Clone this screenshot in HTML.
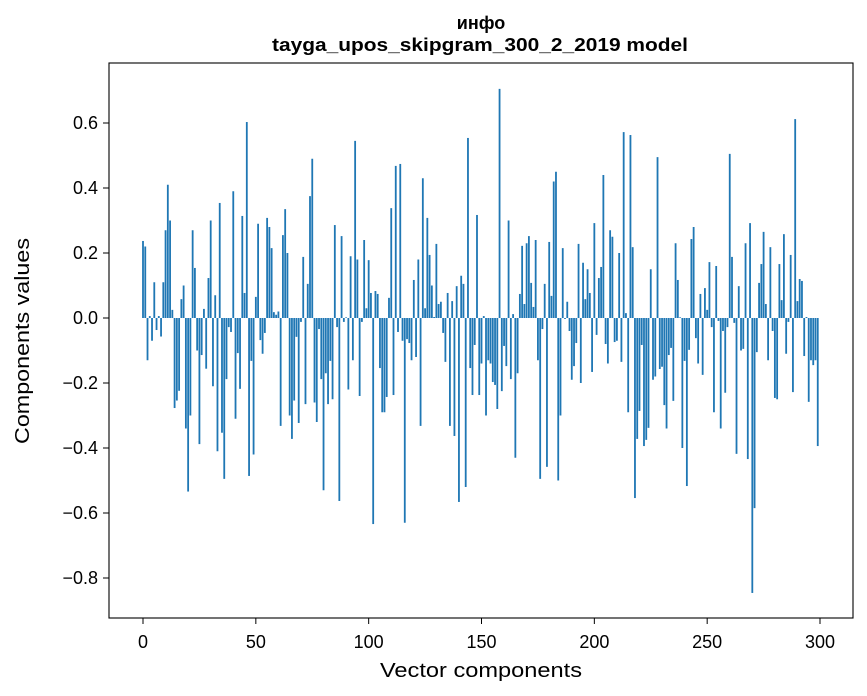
<!DOCTYPE html>
<html><head><meta charset="utf-8">
<style>
html,body{margin:0;padding:0;background:#fff;}
svg{display:block;font-family:"Liberation Sans","DejaVu Sans",sans-serif;}
</style></head>
<body>
<svg id="chart" width="867" height="696" viewBox="0 0 867 696" xmlns="http://www.w3.org/2000/svg">
<rect x="0" y="0" width="867" height="696" fill="#fff"/>
<text x="481" y="29" text-anchor="middle" font-size="18" font-weight="bold" font-family="Liberation Sans, Noto Sans CJK SC, sans-serif">инфо</text>
<text x="480" y="51" text-anchor="middle" font-size="18" font-weight="bold" textLength="416" lengthAdjust="spacingAndGlyphs">tayga_upos_skipgram_300_2_2019 model</text>
<g id="bars"></g>
<g id="axes"></g>
<rect x="109" y="63" width="744" height="555" fill="none" stroke="#000" stroke-width="1.1"/>
<text x="481" y="677" text-anchor="middle" font-size="20" textLength="202" lengthAdjust="spacingAndGlyphs">Vector components</text>
<text transform="translate(29,341) rotate(-90)" text-anchor="middle" font-size="20" textLength="206" lengthAdjust="spacingAndGlyphs">Components values</text>
</svg>
<script>
const values = [
0.237,0.22,-0.13,0.006,-0.07,0.11,-0.037,0.006,-0.057,0.11,
0.27,0.41,0.30,0.025,-0.277,-0.254,-0.224,0.058,0.10,-0.34,
-0.534,-0.30,0.27,0.154,-0.1,-0.388,-0.114,0.028,-0.156,0.123,
0.30,-0.21,0.07,-0.41,0.354,-0.353,-0.495,-0.188,-0.028,-0.043,
0.39,-0.31,-0.108,-0.218,0.314,0.077,0.603,-0.486,-0.132,-0.42,
0.065,0.29,-0.068,-0.11,-0.046,0.308,0.28,0.215,0.018,0.01,
0.02,-0.332,0.255,0.335,0.2,-0.30,-0.372,-0.254,-0.058,-0.323,
-0.012,0.188,-0.265,0.105,0.375,0.49,-0.26,-0.32,-0.034,-0.188,
-0.53,-0.17,-0.265,-0.132,-0.25,0.286,-0.028,-0.563,0.252,-0.012,
0.002,-0.22,0.19,-0.13,0.545,0.18,-0.24,-0.012,0.24,0.03,
0.178,0.077,-0.634,0.083,0.074,-0.154,-0.29,-0.29,-0.243,0.062,
0.338,-0.237,0.468,-0.043,0.474,-0.07,-0.63,-0.065,-0.077,-0.13,
0.117,-0.12,0.18,-0.332,0.43,0.03,0.308,0.194,0.10,0.003,
0.228,0.043,0.05,-0.046,-0.135,0.077,-0.332,0.052,-0.363,0.098,
-0.566,0.13,0.105,-0.52,0.554,-0.154,-0.237,-0.083,0.317,-0.237,
-0.14,0.006,-0.30,-0.13,-0.14,-0.197,-0.206,-0.28,0.705,-0.225,
-0.086,-0.148,0.30,-0.188,0.012,-0.43,-0.17,0.074,0.222,0.043,
0.23,0.252,0.108,0.034,0.24,-0.13,-0.495,-0.034,0.105,-0.458,
0.234,0.068,0.42,0.45,-0.5,-0.30,0.215,-0.003,0.05,-0.04,
-0.19,-0.148,-0.077,0.228,-0.2,0.17,0.058,0.15,0.077,-0.166,
0.292,-0.052,0.123,0.157,0.44,-0.08,-0.14,0.27,0.25,-0.074,
-0.07,0.2,-0.135,0.572,0.015,-0.29,0.563,0.218,-0.554,-0.372,
-0.286,-0.083,-0.394,-0.375,-0.338,0.15,-0.19,-0.18,0.495,-0.157,
-0.15,-0.268,-0.34,-0.114,-0.092,-0.255,0.23,0.117,0.002,-0.40,
-0.132,-0.517,-0.098,0.243,0.28,-0.062,-0.14,0.074,-0.175,0.092,
0.025,0.172,-0.028,-0.29,0.16,-0.009,-0.34,-0.04,-0.23,-0.028,
0.505,0.188,-0.015,-0.418,0.098,-0.10,-0.095,0.23,-0.434,0.292,
-0.846,-0.585,-0.105,0.108,0.166,0.265,0.043,-0.13,0.218,-0.04,
-0.246,-0.25,0.166,0.055,0.258,-0.11,-0.012,0.194,-0.228,0.612,
0.052,0.12,0.114,-0.117,0.003,-0.258,-0.13,-0.145,-0.13,-0.394
];
const xTicks = [0,50,100,150,200,250,300];
const yTicks = [0.6,0.4,0.2,0.0,-0.2,-0.4,-0.6,-0.8];
const yTickLabels = ["0.6","0.4","0.2","0.0","\u22120.2","\u22120.4","\u22120.6","\u22120.8"];

const NS = "http://www.w3.org/2000/svg";
const xScale = v => 143 + v * 2.2567;
const yScale = v => 318 - v * 325;
const barW = 0.8 * 2.2567;

const gBars = document.getElementById('bars');
values.forEach((v, i) => {
  const r = document.createElementNS(NS, 'rect');
  
  
  const y0 = yScale(0), y1 = yScale(v);
  r.setAttribute('x', xScale(i) - barW / 2);
  r.setAttribute('y', Math.min(y0, y1));
  r.setAttribute('width', barW);
  r.setAttribute('height', Math.max(Math.abs(y1 - y0), 0.3));
  r.setAttribute('fill', '#1f77b4');
  gBars.appendChild(r);
});

const gAxes = document.getElementById('axes');
xTicks.forEach(t => {
  const x = xScale(t);
  const l = document.createElementNS(NS, 'line');
  
  
  l.setAttribute('x1', x); l.setAttribute('x2', x);
  l.setAttribute('y1', 618); l.setAttribute('y2', 624);
  l.setAttribute('stroke', '#000');
  gAxes.appendChild(l);
  const tx = document.createElementNS(NS, 'text');
  
  
  tx.setAttribute('x', x); tx.setAttribute('y', 648);
  tx.setAttribute('text-anchor', 'middle');
  tx.setAttribute('font-size', '18');
  tx.textContent = String(t);
  gAxes.appendChild(tx);
});
yTicks.forEach((t, i) => {
  const y = yScale(t);
  const l = document.createElementNS(NS, 'line');
  
  
  l.setAttribute('x1', 103); l.setAttribute('x2', 109);
  l.setAttribute('y1', y); l.setAttribute('y2', y);
  l.setAttribute('stroke', '#000');
  gAxes.appendChild(l);
  const tx = document.createElementNS(NS, 'text');
  
  
  tx.setAttribute('x', 98); tx.setAttribute('y', y + 6);
  tx.setAttribute('text-anchor', 'end');
  tx.setAttribute('font-size', '18');
  tx.textContent = yTickLabels[i];
  gAxes.appendChild(tx);
});
</script>
</body></html>
